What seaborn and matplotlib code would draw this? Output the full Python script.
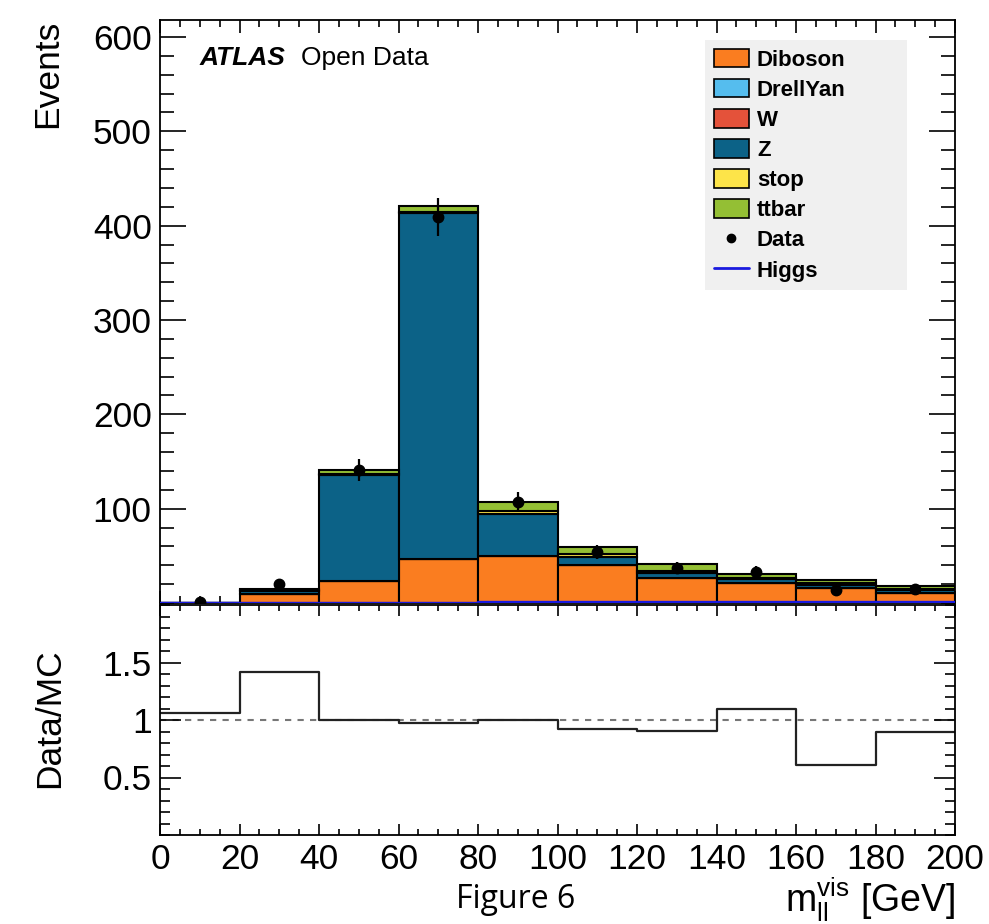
import numpy as np
import pandas as pd
import matplotlib
matplotlib.use("Agg")
import matplotlib.pyplot as plt
from matplotlib import font_manager as fm
from matplotlib.patches import Patch
from matplotlib.lines import Line2D
from matplotlib.ticker import MultipleLocator, FixedLocator
import seaborn as sns

# ---------------- data ----------------
bin_edges = [0, 20, 40, 60, 80, 100, 120, 140, 160, 180, 200]
samples = ["Diboson", "DrellYan", "W", "Z", "stop", "ttbar"]
diboson = [0, 10, 23.5, 47, 50, 40, 26.5, 21, 15.5, 11]
drellyan = [0, 0, 0, 0, 0, 0, 0, 0, 0, 0]
w_boson = [0, 0, 0, 0, 0, 0.5, 0, 0, 0, 0]
z_boson = [0, 3, 112, 366, 44, 8, 5.5, 4, 4, 3]
stop = [0, 0.5, 1, 2, 3, 3, 2, 1.5, 1.5, 1]
ttbar = [0, 1, 5, 6, 10, 8, 7, 4.5, 3, 2.7]
data_counts = [1, 20.5, 141, 409, 107, 54.5, 37, 33, 14, 15]
higgs = [0.4, 0.4, 0.4, 0.4, 0.8, 0.8, 0.8, 0.8, 0.8, 0.8]
ratio = [1.065, 1.416, 1.0, 0.97, 1.003, 0.918, 0.905, 1.095, 0.61, 0.9]
y_ticks_top = [100, 200, 300, 400, 500, 600]
y_ticks_ratio = [0.5, 1.0, 1.5]
y_ticklabels_ratio = ["0.5", "1", "1.5"]
x_ticks = [0, 20, 40, 60, 80, 100, 120, 140, 160, 180, 200]

colors = {
    "Diboson": "#fa7d20",
    "DrellYan": "#55bdee",
    "W": "#e4523a",
    "Z": "#0c6287",
    "stop": "#fde449",
    "ttbar": "#94bf34",
}

# ---------------- style ----------------
sns.set_style("ticks")
names = {f.name for f in fm.fontManager.ttflist}
main_font = next((n for n in ["Liberation Sans", "Arimo", "Arial",
                              "Nimbus Sans", "DejaVu Sans"] if n in names),
                 "DejaVu Sans")
cap_font = next((n for n in ["Open Sans", "Lato", "DejaVu Sans"] if n in names),
                "DejaVu Sans")
plt.rcParams["font.family"] = [main_font, "DejaVu Sans"]
plt.rcParams["mathtext.fontset"] = "custom"
plt.rcParams["mathtext.rm"] = main_font
plt.rcParams["mathtext.it"] = main_font + ":italic"
for k in ["text.color", "axes.labelcolor", "xtick.color", "ytick.color",
          "axes.edgecolor"]:
    plt.rcParams[k] = "black"

edges = [float(e) for e in bin_edges]
centers = [0.5 * (a + b) for a, b in zip(edges[:-1], edges[1:])]

values = {"Diboson": diboson, "DrellYan": drellyan, "W": w_boson,
          "Z": z_boson, "stop": stop, "ttbar": ttbar}
rows = []
for s in samples:
    for c, v in zip(centers, values[s]):
        rows.append({"x": c, "w": v, "sample": s})
df = pd.DataFrame(rows)
df_higgs = pd.DataFrame({"x": centers, "w": higgs})
df_ratio = pd.DataFrame({"x": centers, "w": ratio})

W, H = 989, 924
fig = plt.figure(figsize=(W / 100, H / 100), dpi=100)
L, R = 160 / W, 955 / W
ax1 = fig.add_axes([L, 1 - 603 / H, R - L, (603 - 20) / H])
ax2 = fig.add_axes([L, 1 - 835 / H, R - L, (835 - 605) / H])

# stacked MC
sns.histplot(data=df, x="x", weights="w", hue="sample",
             hue_order=samples[::-1], multiple="stack", bins=edges,
             palette=colors, edgecolor="black", linewidth=1.5, alpha=1,
             legend=False, ax=ax1)

# Higgs
sns.histplot(data=df_higgs, x="x", weights="w", bins=edges, element="step",
             fill=False, color="#1a1adf", linewidth=2.4, ax=ax1, zorder=8)

# data
dc = np.array(data_counts)
ax1.errorbar(centers, dc, yerr=np.sqrt(dc), fmt="o", color="black",
             ms=7.5, elinewidth=1.6, capsize=0, zorder=10)

ax1.set_xlim(0, 200)
ax1.set_ylim(0, 618)
ax1.set_xlabel("")
ax1.set_ylabel("")
ax1.yaxis.set_major_locator(FixedLocator(y_ticks_top))
ax1.yaxis.set_minor_locator(MultipleLocator(20))
ax1.xaxis.set_major_locator(FixedLocator(x_ticks))
ax1.xaxis.set_minor_locator(MultipleLocator(5))
ax1.tick_params(axis="x", labelbottom=False)

# ratio
sns.histplot(data=df_ratio, x="x", weights="w", bins=edges, element="step",
             fill=False, color="#222222", linewidth=1.6, ax=ax2)
ax2.axhline(1.0, color="#777777", ls=(0, (3, 3)), lw=1.5, zorder=0)
ax2.set_xlim(0, 200)
ax2.set_ylim(0, 2.0)
ax2.set_xlabel("")
ax2.set_ylabel("")
ax2.yaxis.set_major_locator(FixedLocator(y_ticks_ratio))
ax2.set_yticklabels(y_ticklabels_ratio)
ax2.yaxis.set_minor_locator(MultipleLocator(0.1))
ax2.xaxis.set_major_locator(FixedLocator(x_ticks))
ax2.xaxis.set_minor_locator(MultipleLocator(5))

for ax in (ax1, ax2):
    for sp in ax.spines.values():
        sp.set_linewidth(1.3)
        sp.set_color("black")
    ax.tick_params(which="both", direction="in", top=True, right=True,
                   color="black", width=1.2, labelcolor="black")
    ax.tick_params(axis="both", which="major", labelsize=25.5, pad=6)
ax1.tick_params(axis="y", which="major", length=19)
ax1.tick_params(axis="y", which="minor", length=10)
ax1.tick_params(axis="x", which="major", length=9)
ax1.tick_params(axis="x", which="minor", length=5)
ax2.tick_params(axis="y", which="major", length=15)
ax2.tick_params(axis="y", which="minor", length=7.5)
ax2.tick_params(axis="x", which="major", length=8)
ax2.tick_params(axis="x", which="minor", length=4)

# labels
fig.text(48 / W, 1 - 20 / H, "Events", rotation=90, ha="center", va="top",
         fontsize=25.5)
fig.text(50 / W, 1 - 718 / H, "Data/MC", rotation=90, ha="center",
         va="center", fontsize=25.5)
fig.text(955 / W, 1 - 900 / H, r"m$_{\mathrm{ll}}^{\mathrm{vis}}$ [GeV]",
         ha="right", va="center", fontsize=27)
fig.text(516 / W, 1 - 908 / H, "Figure 6", ha="center", va="baseline",
         fontsize=23, family=[cap_font, "DejaVu Sans"])

fig.text(200 / W, 1 - 65 / H, "ATLAS", ha="left", va="baseline",
         fontsize=19, fontweight="bold", fontstyle="italic")
fig.text(301 / W, 1 - 65 / H, "Open Data", ha="left", va="baseline",
         fontsize=19)

# legend
handles = [Patch(facecolor=colors[s], edgecolor="black", linewidth=1.2,
                 label=s) for s in samples]
handles.append(Line2D([], [], marker="o", ls="none", color="black", ms=6,
                      label="Data"))
handles.append(Line2D([], [], color="#1a1adf", lw=2, label="Higgs"))
x0 = (705 - 160) / 795
wleg = (907 - 705) / 795
ytop = (603 - 40) / 583
leg = ax1.legend(handles=handles, loc="upper left",
                 bbox_to_anchor=(x0, ytop - 0.5, wleg, 0.5), mode="expand",
                 borderaxespad=0,
                 frameon=True, fancybox=False, facecolor="#f0f0f0",
                 edgecolor="none", framealpha=1,
                 prop={"size": 16, "weight": "bold"},
                 labelspacing=0.37, handlelength=1.58, handleheight=0.9,
                 handletextpad=0.36, borderpad=0.4)
leg.get_frame().set_linewidth(0)

fig.savefig("out.png", dpi=100, facecolor="white")
